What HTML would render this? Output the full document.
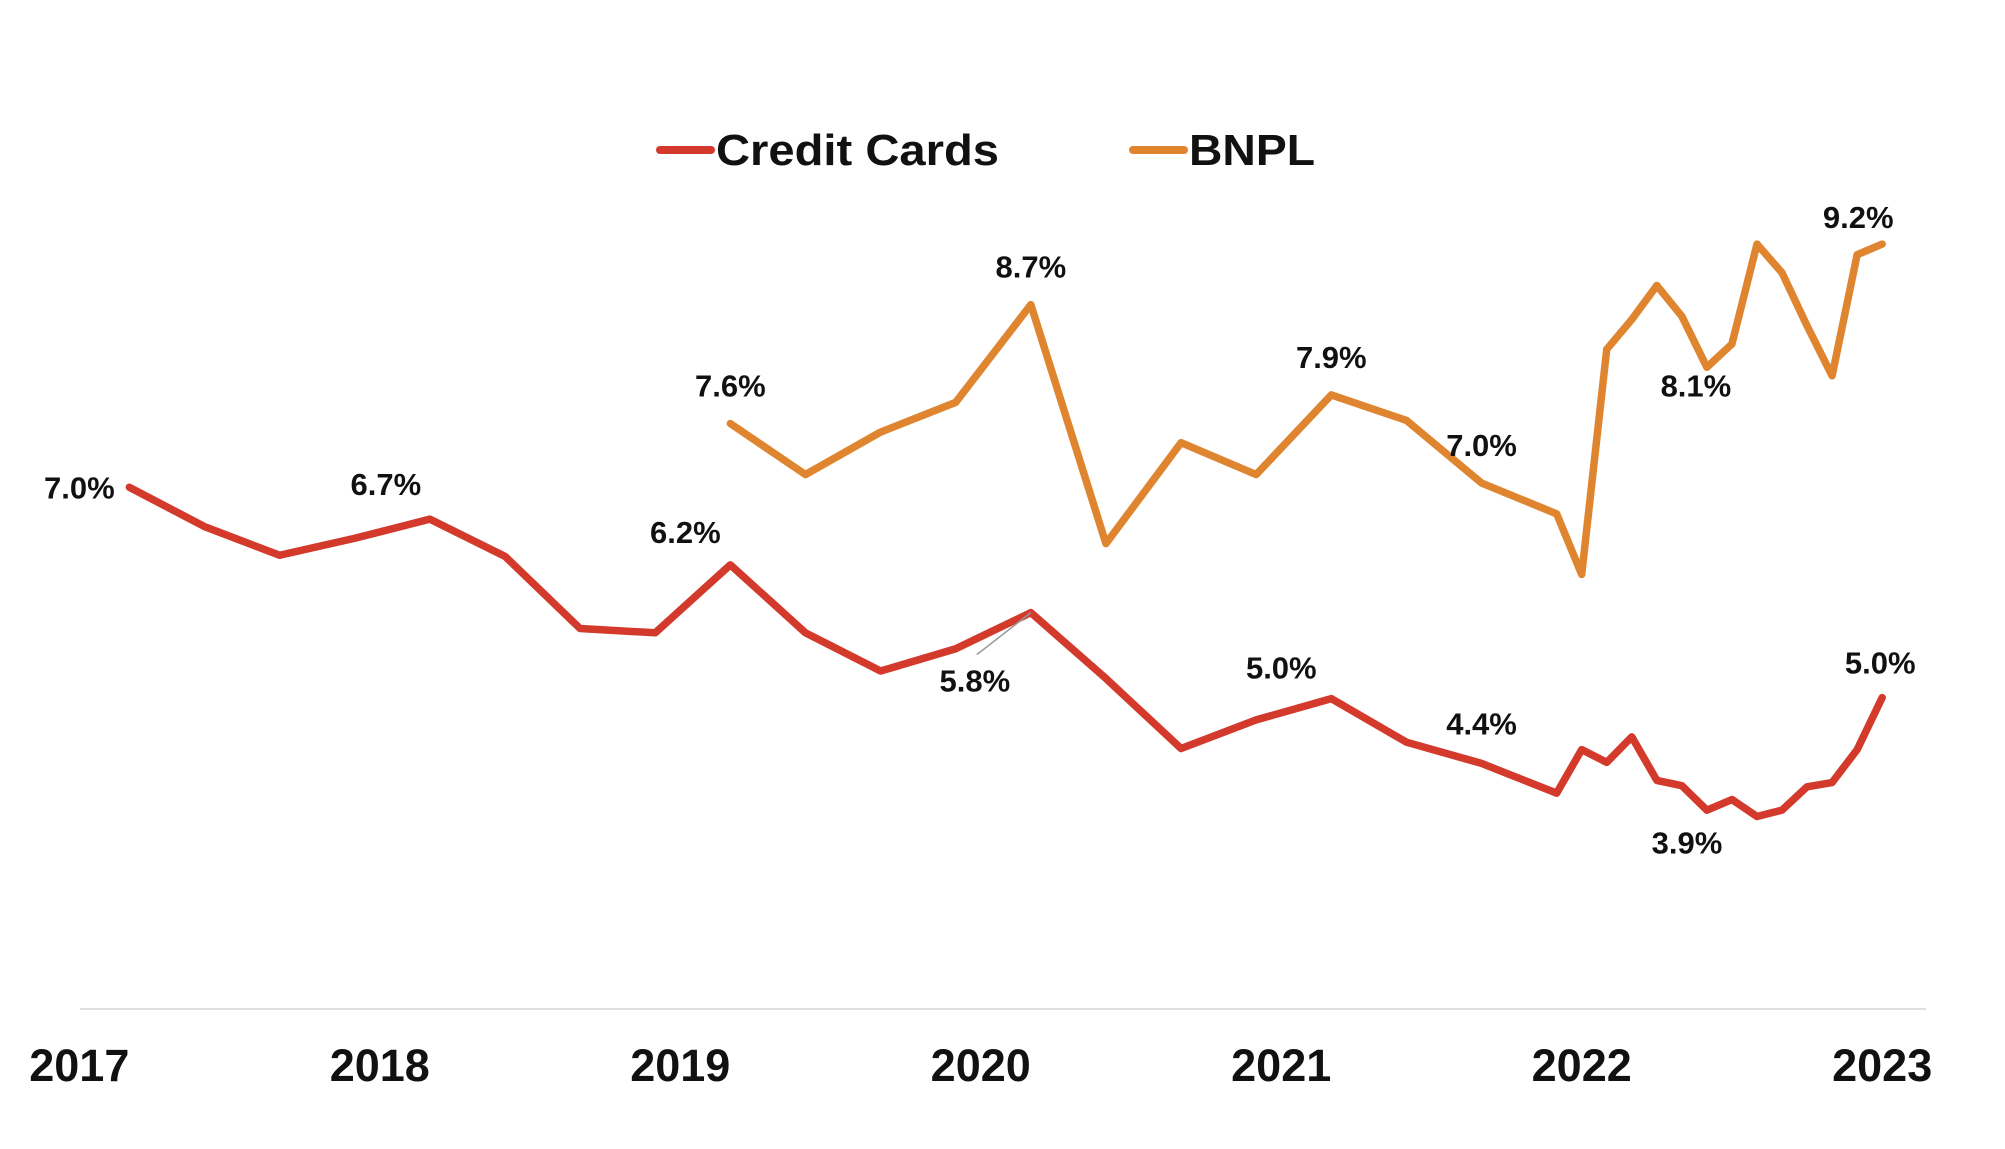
<!DOCTYPE html>
<html><head><meta charset="utf-8">
<style>
html,body{margin:0;padding:0;background:#fff;}
svg{display:block;font-family:"Liberation Sans",sans-serif;}
</style></head>
<body>
<svg id="chart" width="2005" height="1149" viewBox="0 0 2005 1149" xmlns="http://www.w3.org/2000/svg">
  <g>
    <g>
      <line x1="660" y1="150" x2="711" y2="150" stroke="#d33a2c" stroke-width="8" stroke-linecap="round"/>
      <text x="716" y="165" font-size="44" font-weight="bold" fill="#111" textLength="283" lengthAdjust="spacingAndGlyphs">Credit Cards</text>
    </g>
    <g>
      <line x1="1133" y1="150" x2="1184" y2="150" stroke="#e0852f" stroke-width="8" stroke-linecap="round"/>
      <text x="1189" y="165" font-size="44" font-weight="bold" fill="#111" textLength="126" lengthAdjust="spacingAndGlyphs">BNPL</text>
    </g>
  </g>
  <line x1="80" y1="1009" x2="1926" y2="1009" stroke="#e0e0e0" stroke-width="2"/>
  <g id="xticks"></g>
  <g id="series"></g>
  <g id="labels"></g>
</svg>
<script>
// Year tick labels
const yearLabels = ["2017","2018","2019","2020","2021","2022","2023"];
// Credit cards: months since Jan 2017 and values (%)
const ccMonths = [2,5,8,11,14,17,20,23,26,29,32,35,38,41,44,47,50,53,56,59,60,61,62,63,64,65,66,67,68,69,70,71,72];
const ccValues = [7.0,6.63,6.36,6.52,6.70,6.35,5.67,5.63,6.27,5.63,5.27,5.48,5.82,5.20,4.54,4.81,5.01,4.60,4.40,4.12,4.53,4.41,4.65,4.24,4.19,3.96,4.06,3.90,3.96,4.18,4.22,4.53,5.02];
// BNPL
const bnMonths = [26,29,32,35,38,41,44,47,50,53,56,59,60,61,62,63,64,65,66,67,68,69,70,71,72];
const bnValues = [7.6,7.12,7.52,7.80,8.72,6.47,7.42,7.12,7.87,7.63,7.04,6.75,6.18,8.30,8.58,8.90,8.61,8.13,8.35,9.29,9.02,8.52,8.05,9.19,9.29];
// Printed labels: index into series and text
const ccLabelIdx = [0,4,8,12,16,18,27,32];
const ccLabelText = ["7.0%","6.7%","6.2%","5.8%","5.0%","4.4%","3.9%","5.0%"];
const bnLabelIdx = [0,4,8,10,17,24];
const bnLabelText = ["7.6%","8.7%","7.9%","7.0%","8.1%","9.2%"];

const NS = "http://www.w3.org/2000/svg";
function xScale(m){ return 79.3 + m*25.04; }
function yScale(v){ return 487.3 + (7 - v)*106.2; }

const xt = document.getElementById('xticks');
yearLabels.forEach(function(y,i){
  const t = document.createElementNS(NS,'text');
  t.setAttribute('x', xScale(i*12));
  t.setAttribute('y', 1081);
  t.setAttribute('text-anchor','middle');
  t.setAttribute('font-size','45');
  t.setAttribute('font-weight','bold');
  t.setAttribute('fill','#111');
  t.textContent = y;
  
  
  xt.appendChild(t);
});

const sg = document.getElementById('series');
function drawLine(months, values, color, name){
  const p = document.createElementNS(NS,'polyline');
  p.setAttribute('points', months.map(function(m,i){return xScale(m)+','+yScale(values[i]);}).join(' '));
  p.setAttribute('fill','none');
  p.setAttribute('stroke',color);
  p.setAttribute('stroke-width','7.5');
  p.setAttribute('stroke-linejoin','round');
  p.setAttribute('stroke-linecap','round');
  
  
  sg.appendChild(p);
}
drawLine(bnMonths, bnValues, '#e0852f', 'bnpl-line');
drawLine(ccMonths, ccValues, '#d33a2c', 'credit-cards-line');

// leader line for 5.8% label
const ll = document.createElementNS(NS,'line');
ll.setAttribute('x1', xScale(ccMonths[12]) - 54);
ll.setAttribute('y1', yScale(ccValues[12]) + 42);
ll.setAttribute('x2', xScale(ccMonths[12]));
ll.setAttribute('y2', yScale(ccValues[12]));
ll.setAttribute('stroke','#999');
ll.setAttribute('stroke-width','1.5');


sg.appendChild(ll);

const lg = document.getElementById('labels');
// offsets (dx, dy) for label placement relative to point
const ccOff = [[-50,11],[-44,-24],[-45,-22],[-56,79],[-50,-20],[0,-29],[-70,37],[-2,-24]];
const bnOff = [[0,-27],[0,-27],[0,-27],[0,-27],[-11,29],[-24,-16]];
function drawLabels(months, values, idx, texts, off, prefix){
  idx.forEach(function(k,i){
    const t = document.createElementNS(NS,'text');
    t.setAttribute('x', xScale(months[k]) + off[i][0]);
    t.setAttribute('y', yScale(values[k]) + off[i][1]);
    t.setAttribute('text-anchor','middle');
    t.setAttribute('font-size','31');
    t.setAttribute('font-weight','bold');
    t.setAttribute('fill','#111');
    t.textContent = texts[i];
    
    
    lg.appendChild(t);
  });
}
drawLabels(ccMonths, ccValues, ccLabelIdx, ccLabelText, ccOff, 'credit-cards');
drawLabels(bnMonths, bnValues, bnLabelIdx, bnLabelText, bnOff, 'bnpl');
</script>
</body></html>
